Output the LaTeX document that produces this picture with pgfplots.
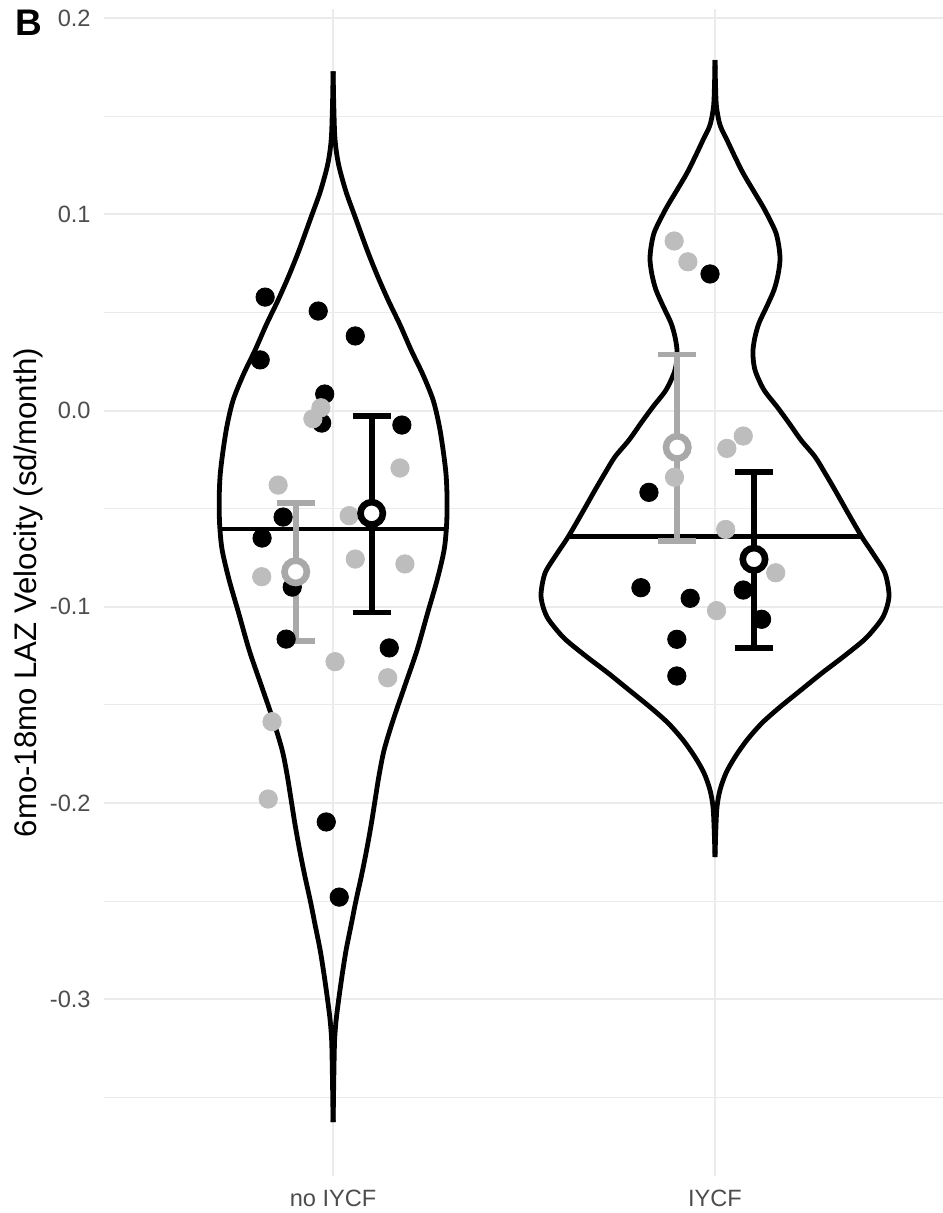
\documentclass[border=0pt]{standalone}
\usepackage{fontspec}
\setmainfont{Liberation Sans}
\usepackage{pgfplots}
\pgfplotsset{compat=1.18}
\usepackage{pgfplotstable}
\usetikzlibrary{calc}
\definecolor{gridc}{HTML}{EBEBEB}
\definecolor{ticktext}{HTML}{4D4D4D}
\definecolor{ptgray}{HTML}{BDBDBD}
\definecolor{bargray}{HTML}{A9A9A9}

% violin outlines: v = value, w = half width (category units)
\pgfplotstableread{
v w
0.17288 0
0.15851 0.0013
0.14144 0.0039
0.13277 0.0079
0.12411 0.0157
0.11137 0.0340
0.09862 0.0576
0.08180 0.0890
0.06906 0.1152
0.05632 0.1440
0.04358 0.1754
0.03083 0.2042
0.01809 0.2356
0.00535 0.2618
-0.00739 0.2775
-0.02013 0.2880
-0.03287 0.2958
-0.04562 0.2984
-0.05836 0.2971
-0.07110 0.2906
-0.08639 0.2723
-0.10321 0.2474
-0.12207 0.2199
-0.13991 0.1885
-0.15775 0.1571
-0.17304 0.1335
-0.18578 0.1204
-0.19852 0.1099
-0.21126 0.0995
-0.22401 0.0877
-0.23675 0.0746
-0.24949 0.0602
-0.26223 0.0471
-0.27497 0.0340
-0.28772 0.0236
-0.30046 0.0144
-0.31065 0.0079
-0.32085 0.0039
-0.33614 0.0021
-0.36264 0
}\violinA

\pgfplotstableread{
v w
0.17864 0
0.16590 0.0013
0.15484 0.0039
0.14551 0.0131
0.13787 0.0314
0.12920 0.0524
0.12105 0.0733
0.11239 0.0995
0.10387 0.1257
0.09709 0.1440
0.09047 0.1597
0.08333 0.1675
0.07671 0.1702
0.06906 0.1649
0.06141 0.1545
0.05326 0.1361
0.04460 0.1152
0.03746 0.1047
0.03084 0.0995
0.02472 0.1008
0.01911 0.1073
0.01045 0.1283
0.00194 0.1623
-0.00637 0.1937
-0.01504 0.2251
-0.02355 0.2618
-0.03185 0.2880
-0.04052 0.3141
-0.05224 0.3482
-0.06448 0.3848
-0.07365 0.4162
-0.08283 0.4450
-0.09302 0.4555
-0.09913 0.4516
-0.10525 0.4398
-0.11086 0.4188
-0.11697 0.3901
-0.12564 0.3351
-0.13379 0.2801
-0.14246 0.2251
-0.15112 0.1702
-0.15928 0.1230
-0.16794 0.0838
-0.17661 0.0524
-0.18476 0.0288
-0.19343 0.0131
-0.20209 0.0052
-0.21381 0.0021
-0.22757 0
}\violinB

\pgfplotstableread{
x y
-0.178 0.0578
-0.191 0.0258
-0.039 0.0507
0.058 0.0380
-0.022 0.0084
-0.030 -0.0064
0.180 -0.0074
-0.131 -0.0543
-0.186 -0.0650
-0.107 -0.0900
-0.123 -0.1165
0.147 -0.1210
-0.018 -0.2097
0.016 -0.2480
0.987 0.0696
0.827 -0.0417
0.806 -0.0903
0.935 -0.0957
1.074 -0.0915
1.122 -0.1064
0.900 -0.1166
0.900 -0.1353
}\blackpts

\pgfplotstableread{
x y
-0.032 0.0014
-0.053 -0.0042
0.175 -0.0293
-0.144 -0.0380
0.042 -0.0536
-0.187 -0.0847
0.058 -0.0757
0.188 -0.0782
0.005 -0.1280
0.143 -0.1362
-0.160 -0.1586
-0.170 -0.1980
0.893 0.0864
0.929 0.0758
1.074 -0.0130
1.031 -0.0193
0.894 -0.0340
1.028 -0.0606
1.159 -0.0827
1.004 -0.1020
}\graypts

\begin{document}
\begin{tikzpicture}
\begin{axis}[
  scale only axis, width=419.5pt, height=583.8pt,
  xmin=-0.6, xmax=1.597, ymin=-0.3904, ymax=0.2047,
  xtick={0,1}, xticklabels={no IYCF, IYCF},
  ytick={-0.3,-0.2,-0.1,0,0.1,0.2},
  yticklabels={-0.3,-0.2,-0.1,0.0,0.1,0.2},
  minor ytick={-0.35,-0.25,-0.15,-0.05,0.05,0.15},
  xmajorgrids, ymajorgrids, yminorgrids,
  major grid style={draw=gridc, line width=1pt},
  minor grid style={draw=gridc, line width=0.5pt},
  axis line style={draw=none},
  major tick length=0pt, minor tick length=0pt,
  tick style={draw=none},
  yticklabel style={anchor=east, inner sep=0pt, xshift=-6.5pt, font=\fontsize{11.8}{14}\selectfont, text=ticktext},
  xticklabel style={anchor=north, inner sep=0pt, yshift=-6.5pt, font=\fontsize{11.8}{14}\selectfont, text=ticktext},
  clip=false,
]
\coordinate (bl) at (rel axis cs:0,0);
\coordinate (tr) at (rel axis cs:1,1);
\coordinate (tl) at (rel axis cs:0,1);
\coordinate (ml) at (rel axis cs:0,0.5);

% violins
\addplot[black, line width=2.4pt, smooth] table[x expr=-\thisrow{w}, y=v] {\violinA};
\addplot[black, line width=2.4pt, smooth] table[x expr=\thisrow{w}, y=v] {\violinA};
\addplot[black, line width=2.4pt, smooth] table[x expr=1-\thisrow{w}, y=v] {\violinB};
\addplot[black, line width=2.4pt, smooth] table[x expr=1+\thisrow{w}, y=v] {\violinB};
% median lines
\addplot[black, line width=2.4pt] coordinates {(-0.296,-0.0604) (0.296,-0.0604)};
\addplot[black, line width=2.4pt] coordinates {(0.616,-0.0643) (1.385,-0.0643)};

% points
\addplot[only marks, mark=*, mark size=4.6pt, color=black, mark options={draw=none, fill=black}] table[x=x, y=y] {\blackpts};
\addplot[only marks, mark=*, mark size=4.6pt, color=ptgray, mark options={draw=none, fill=ptgray}] table[x=x, y=y] {\graypts};

% error bars: no IYCF gray
\addplot[bargray, line width=2.9pt] coordinates {(-0.098,-0.0470) (-0.098,-0.1175)};
\addplot[bargray, line width=2.9pt] coordinates {(-0.148,-0.0470) (-0.048,-0.0470)};
\addplot[bargray, line width=2.9pt] coordinates {(-0.148,-0.1175) (-0.048,-0.1175)};
% no IYCF black
\addplot[black, line width=2.9pt] coordinates {(0.101,-0.0027) (0.101,-0.1029)};
\addplot[black, line width=2.9pt] coordinates {(0.051,-0.0027) (0.151,-0.0027)};
\addplot[black, line width=2.9pt] coordinates {(0.051,-0.1029) (0.151,-0.1029)};
% IYCF gray
\addplot[bargray, line width=2.9pt] coordinates {(0.901,0.0286) (0.901,-0.0665)};
\addplot[bargray, line width=2.9pt] coordinates {(0.851,0.0286) (0.951,0.0286)};
\addplot[bargray, line width=2.9pt] coordinates {(0.851,-0.0665) (0.951,-0.0665)};
% IYCF black
\addplot[black, line width=2.9pt] coordinates {(1.102,-0.0315) (1.102,-0.1212)};
\addplot[black, line width=2.9pt] coordinates {(1.052,-0.0315) (1.152,-0.0315)};
\addplot[black, line width=2.9pt] coordinates {(1.052,-0.1212) (1.152,-0.1212)};

% means
\addplot[only marks, mark=*, mark size=5.6pt, mark options={draw=bargray, fill=white, line width=3.3pt}] coordinates {(-0.098,-0.0822) (0.901,-0.0188)};
\addplot[only marks, mark=*, mark size=5.6pt, mark options={draw=black, fill=white, line width=3.3pt}] coordinates {(0.101,-0.0524) (1.102,-0.0758)};
\end{axis}
\node[rotate=90, inner sep=0pt, font=\fontsize{15.6}{18}\selectfont] at ($(ml)+(-37.75pt,0pt)$) {6mo-18mo LAZ Velocity (sd/month)};
\node[anchor=base west, inner sep=0pt, font=\fontsize{18.5}{20}\selectfont\bfseries] at ($(tl)+(-44.5pt,-13.55pt)$) {B};
\pgfresetboundingbox
\path[use as bounding box] ($(bl)+(-52pt,-18.25pt)$) rectangle ($(tr)+(0pt,4.45pt)$);
\end{tikzpicture}
\end{document}
